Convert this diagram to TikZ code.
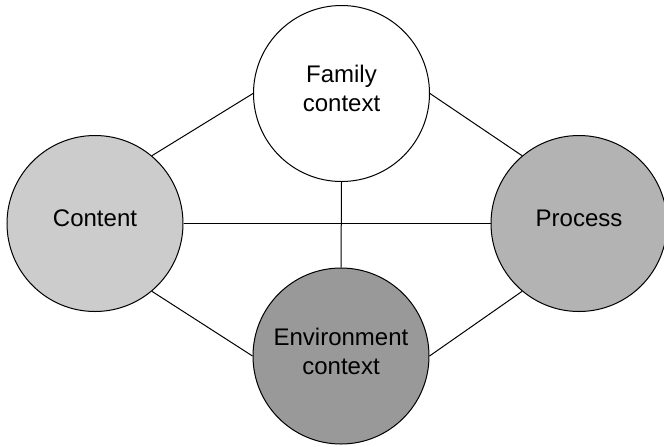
\documentclass[tikz,border=0pt]{standalone}
\usepackage{fontspec}
\setmainfont{Liberation Sans}
\usetikzlibrary{positioning}
\definecolor{contentgray}{HTML}{CCCCCC}
\definecolor{processgray}{HTML}{B3B3B3}
\definecolor{envgray}{HTML}{999999}
\begin{document}
\begin{tikzpicture}[x=0.5pt,y=-0.5pt,line width=0.5pt,
		every node/.style={font=\fontsize{12}{14.4}\selectfont},
		topic/.style={circle,draw=black,inner sep=0pt,minimum size=88pt,align=center,text depth=5pt}]
			\useasboundingbox (0,0) rectangle (664,446);
			% circles
			\node[topic,fill=white] (family) at (341.5,93.5) {Family\\context};
			\node[topic,fill=contentgray] (content) at (95,223.5) {Content};
			\node[topic,fill=processgray] (process) at (579,223.5) {Process};
			\node[topic,fill=envgray] (env) at (341,356) {Environment\\context};
			% links
			\foreach \a/\b in {content.50/family.west, family.east/process.130, content.-50/env.west, env.east/process.-130, content.east/process.west, family.south/env.north}
			\draw (\a) -- (\b);
		\end{tikzpicture}
\end{document}
